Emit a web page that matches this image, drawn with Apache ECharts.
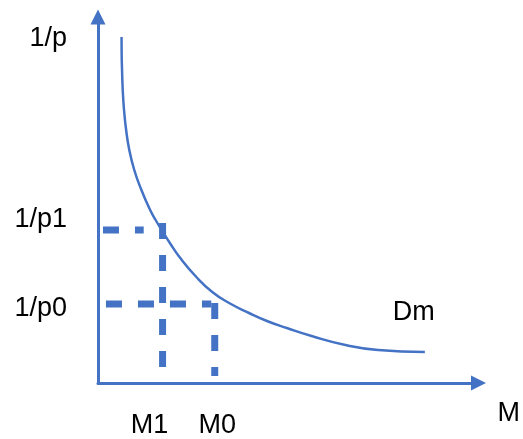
<!DOCTYPE html>
<html>
<head>
<meta charset="utf-8">
<script src="https://cdn.jsdelivr.net/npm/echarts@6/dist/echarts.min.js"></script>
<style>
html,body{margin:0;padding:0;background:#fff;}
#c{width:523px;height:439px;}
</style>
</head>
<body>
<div id="c"></div>
<script>
// Demand-for-money curve Dm (M on x, 1/p on y)
const curveM    = [23.7, 23.8, 24.2, 24.9, 26.2, 28.2, 31.5, 36.5, 43.7, 52, 58, 65.3, 73, 82, 99, 115, 132, 152, 170, 190, 215, 249, 282, 329];
const curveInvP = [346, 330, 313, 293, 273, 254, 233, 213, 193, 174, 163, 151, 139, 126, 106, 91, 80, 70, 62, 55, 47, 38, 33, 31];

// Reference levels
const M1 = 65;
const M0 = 117.5;
const invP1 = 153;
const invP0 = 79;

// Tick labels
const xTickValues = [M1, M0];
const xTickLabels = ['M1', 'M0'];
const yTickValues = [invP0, invP1];
const yTickLabels = ['1/p0', '1/p1'];
const xName = 'M';
const yName = '1/p';
const curveName = 'Dm';

// Dashed guide segments: [x0, y0, x1, y1]
const guideP1H = [5, invP1, 46, invP1];
const guideM1V = [M1, 160, M1, 15];
const guideP0H = [8, invP0, 114, invP0];
const guideM0V = [M0, 80, M0, 7];

const BLUE = '#4472C4';
const FONT = '"Liberation Sans", Arial, Helvetica, sans-serif';

const curveData = curveM.map((m, i) => [m, curveInvP[i]]);
const last = curveData.length - 1;

function guide(seg) {
  return {
    type: 'line',
    data: [[seg[0], seg[1]], [seg[2], seg[3]]],
    showSymbol: false,
    silent: true,
    lineStyle: { color: BLUE, width: 7, type: [16, 16], cap: 'butt' },
    z: 3
  };
}

const chart = echarts.init(document.getElementById('c'));
chart.setOption({
  animation: false,
  backgroundColor: '#fff',
  grid: { left: 98, right: 42, top: 17, bottom: 56, containLabel: false },
  xAxis: {
    type: 'value', min: 0, max: 383,
    name: '{m|' + xName + '}', nameLocation: 'end', nameGap: 19,
    nameTextStyle: {
      color: '#000', fontSize: 27, fontFamily: FONT, align: 'left', verticalAlign: 'middle',
      rich: { m: { color: '#000', fontSize: 27, fontFamily: FONT, padding: [62, 0, 0, 0] } }
    },
    axisLine: { show: true, onZero: false, symbol: ['none', 'triangle'], symbolSize: [15, 15], lineStyle: { color: BLUE, width: 3 } },
    axisTick: { show: false },
    splitLine: { show: false },
    axisLabel: {
      show: true, customValues: xTickValues, margin: 29,
      color: '#000', fontSize: 27, fontFamily: FONT,
      formatter: v => {
        const i = xTickValues.indexOf(v);
        return i === 0 ? '{a|' + xTickLabels[0] + '}' : '{b|' + xTickLabels[1] + '}';
      },
      rich: {
        a: { color: '#000', fontSize: 27, fontFamily: FONT, padding: [0, 26, 0, 0] },
        b: { color: '#000', fontSize: 27, fontFamily: FONT, padding: [0, 0, 0, 5] }
      }
    }
  },
  yAxis: {
    type: 'value', min: 0, max: 366,
    name: yName, nameLocation: 'end', nameGap: -22,
    nameTextStyle: { color: '#000', fontSize: 27, fontFamily: FONT, align: 'right', verticalAlign: 'middle', padding: [0, 31, 0, 0] },
    axisLine: { show: true, onZero: false, symbol: ['none', 'triangle'], symbolSize: [15, 15], lineStyle: { color: BLUE, width: 3 } },
    axisTick: { show: false },
    splitLine: { show: false },
    axisLabel: {
      show: true, customValues: yTickValues, margin: 31,
      color: '#000', fontSize: 27, fontFamily: FONT,
      formatter: v => {
        const i = yTickValues.indexOf(v);
        return i === 0 ? '{a|' + yTickLabels[0] + '}' : '{b|' + yTickLabels[1] + '}';
      },
      rich: {
        a: { color: '#000', fontSize: 27, fontFamily: FONT, padding: [10, 0, 0, 0] },
        b: { color: '#000', fontSize: 27, fontFamily: FONT, padding: [0, 0, 20, 0] }
      }
    }
  },
  series: [
    {
      type: 'line', name: curveName, data: curveData, smooth: 0.5,
      showSymbol: false, symbol: 'none', silent: true,
      lineStyle: { color: BLUE, width: 2.5 }, z: 4
    },
    {
      type: 'scatter', data: [curveData[last]], symbolSize: 1, silent: true,
      itemStyle: { color: 'transparent', opacity: 1 },
      label: {
        show: true, formatter: curveName, position: 'top', offset: [-11, -20],
        color: '#000', opacity: 1, fontSize: 27, fontFamily: FONT
      },
      z: 5
    },
    guide(guideP1H), guide(guideM1V), guide(guideP0H), guide(guideM0V)
  ]
});
</script>
</body>
</html>
